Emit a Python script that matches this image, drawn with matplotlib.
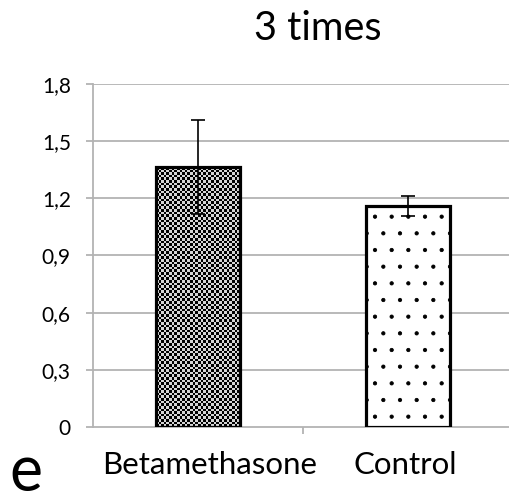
import numpy as np
import matplotlib
matplotlib.use("Agg")
import matplotlib.pyplot as plt

categories = ["Betamethasone", "Control"]
values = [1.364, 1.161]
errors = [0.245, 0.053]
yticks = [0, 0.3, 0.6, 0.9, 1.2, 1.5, 1.8]
ytick_labels = ["0", "0,3", "0,6", "0,9", "1,2", "1,5", "1,8"]
title = "3 times"
panel_letter = "e"

plt.rcParams['font.family'] = ['Lato', 'DejaVu Sans']
plt.rcParams['hatch.linewidth'] = 0.6

W, H = 510, 497
fig = plt.figure(figsize=(W / 100, H / 100), dpi=100)
# axes in pixel coords: left 93, right 513, top 84, bottom 427
ax = fig.add_axes([93 / W, (H - 427) / H, (513 - 93) / W, (427 - 84) / H])

x = np.arange(len(categories))
bw = 0.4
grid_c = "#b3b3b3"

ax.set_xlim(-0.5, 1.5)
ax.set_ylim(0, 1.8)
ax.set_yticks(yticks)
ax.set_yticklabels(ytick_labels, fontsize=15)
for yv in yticks[1:]:
    ax.axhline(yv, color=grid_c, lw=1.3, zorder=0)

bars = ax.bar(x, values, width=bw, facecolor="white", edgecolor="black",
              linewidth=2.3, zorder=3)
# checkerboard fill for the first bar
n_cols = 32
n_rows = int(round(n_cols * (values[0] * 343 / 1.8) / 84))
checker = (np.indices((n_rows, n_cols)).sum(axis=0) % 2).astype(float)
im = ax.imshow(checker, cmap="gray", vmin=0, vmax=1.2, interpolation="nearest",
               extent=(x[0] - bw / 2, x[0] + bw / 2, 0, values[0]),
               aspect="auto", zorder=2.5)
im.set_clip_path(bars[0])
bars[0].set_facecolor("none")

# dotted fill for the second bar
bars[1].set_hatch(".")
bars[1].set_facecolor("white")

ax.errorbar(x, values, yerr=errors, fmt="none", ecolor="black", elinewidth=1.2,
            capsize=5, capthick=1.2, zorder=4)

for s in ["top", "right"]:
    ax.spines[s].set_visible(False)
ax.spines["left"].set_color(grid_c)
ax.spines["bottom"].set_color(grid_c)
ax.spines["left"].set_linewidth(1.3)
ax.spines["bottom"].set_linewidth(1.3)
ax.tick_params(axis="y", length=5, color=grid_c, width=1.3, pad=11)
ax.set_xticks([0.5])
ax.set_xticklabels([""])
ax.tick_params(axis="x", length=5, color=grid_c, width=1.3)

label_px = [210, 405]
for px, lab in zip(label_px, categories):
    fig.text(px / W, 1 - 474 / H, lab, ha="center", va="baseline", fontsize=22.5)

fig.text(318 / W, 1 - 40 / H, title, ha="center", va="baseline", fontsize=28.5)
fig.text(9 / W, 1 - 491 / H, panel_letter, ha="left", va="baseline", fontsize=45)

fig.savefig("out.png", dpi=100)
